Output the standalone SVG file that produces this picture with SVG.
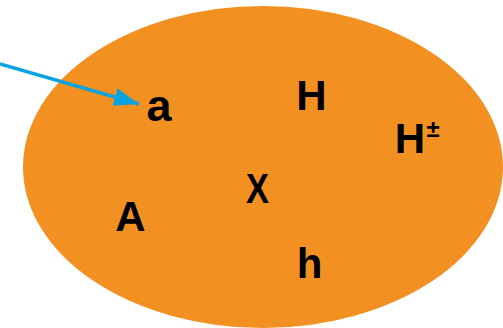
<svg xmlns="http://www.w3.org/2000/svg" width="503" height="328" viewBox="0 0 503 328">
  <style>
    .lbl { font-family: "Liberation Sans", Arial, sans-serif; font-weight: bold; font-size: 42px; fill: #000; text-anchor: middle; }
  </style>
  <defs>
    <marker id="arrow" markerUnits="userSpaceOnUse" markerWidth="28" markerHeight="20" refX="25" refY="9" orient="auto">
      <path d="M0,0 L25,9 L0,18 Z" fill="#0BA3DF"/>
    </marker>
  </defs>
  <rect width="503" height="328" fill="#fff"/>
  <g id="set">
    <ellipse cx="263" cy="167" rx="240" ry="161" fill="#F29122"/>
  </g>
  <g id="connectors">
    <line x1="0" y1="64" x2="139" y2="104" stroke="#0BA3DF" stroke-width="3.5" marker-end="url(#arrow)"/>
  </g>
  <g id="node-a"><text class="lbl" x="159" y="121" style="font-size:45px">a</text></g>
  <g id="node-H"><text class="lbl" x="311.5" y="110">H</text></g>
  <g id="node-Hpm"><text class="lbl" x="410" y="153">H</text><text x="433" y="137" style="font-family:'Liberation Sans',Arial,sans-serif;font-weight:bold;font-size:24px;text-anchor:middle">±</text></g>
  <g id="node-X"><text class="lbl" transform="translate(257.5,203) scale(0.82,1)">X</text></g>
  <g id="node-A"><text class="lbl" x="130.5" y="231">A</text></g>
  <g id="node-h"><text class="lbl" x="309.5" y="278">h</text></g>
</svg>
